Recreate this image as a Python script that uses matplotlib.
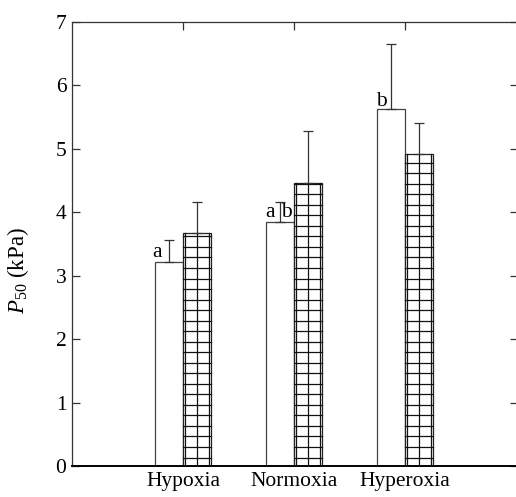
import matplotlib
matplotlib.use("Agg")
import matplotlib.pyplot as plt
import numpy as np

plt.rcParams['font.family'] = ['Liberation Serif', 'DejaVu Serif']
plt.rcParams['mathtext.fontset'] = 'custom'
plt.rcParams['mathtext.rm'] = 'Liberation Serif'
plt.rcParams['mathtext.it'] = 'Liberation Serif:italic'

categories = ['Hypoxia', 'Normoxia', 'Hyperoxia']
white_values = [3.22, 3.85, 5.63]
white_errors = [0.35, 0.31, 1.02]
hatched_values = [3.67, 4.46, 4.92]
hatched_errors = [0.49, 0.82, 0.48]
white_letters = ['a', 'a', 'b']
extra_letters = ['', 'b', '']
y_ticks = [0, 1, 2, 3, 4, 5, 6, 7]

W, H = 516, 497
fig = plt.figure(figsize=(W / 100, H / 100), dpi=100)
ax = fig.add_axes([72 / W, (H - 466) / H, (518 - 72) / W, (466 - 22) / H])

x = np.arange(1, len(categories) + 1)
bw = 0.25
edge = '#444444'

ax.bar(x - bw / 2, white_values, width=bw, color='white', edgecolor=edge, linewidth=0.9, zorder=2)
ax.bar(x + bw / 2, hatched_values, width=bw, color='white', edgecolor='#222222', linewidth=0.9, zorder=2)

# grid hatch for the second series
hstep = 0.166
hoff = 0.134
for xi, v in zip(x, hatched_values):
    left = xi
    for f in (0.08, 0.5, 0.92):
        ax.plot([left + f * bw] * 2, [0, v], color='#111111', lw=0.9, zorder=3)
    ys = np.arange(hoff, v, hstep)
    for yy in ys:
        ax.plot([left, left + bw], [yy, yy], color='#111111', lw=0.9, zorder=3)

ax.errorbar(x - bw / 2, white_values, yerr=[np.zeros(3), white_errors], fmt='none',
            ecolor='#333333', elinewidth=0.9, capsize=3.4, capthick=0.9, zorder=4)
ax.errorbar(x + bw / 2, hatched_values, yerr=[np.zeros(3), hatched_errors], fmt='none',
            ecolor='#333333', elinewidth=0.9, capsize=3.4, capthick=0.9, zorder=4)

fs = 15.5
ax.text(x[0] - bw + 0.02, white_values[0] + 0.08, white_letters[0], ha='center', va='baseline', fontsize=fs)
ax.text(x[1] - bw + 0.03, white_values[1] + 0.08, white_letters[1], ha='center', va='baseline', fontsize=fs)
ax.text(x[1] - 0.065, white_values[1] + 0.08, extra_letters[1], ha='center', va='baseline', fontsize=fs)
ax.text(x[2] - bw + 0.04, white_values[2] + 0.05, white_letters[2], ha='center', va='baseline', fontsize=fs)

ax.set_xlim(0, 4.018)
ax.set_ylim(0, 7)
ax.set_yticks(y_ticks)
ax.set_xticks(x)
ax.set_xticklabels(categories, fontsize=fs)
ax.tick_params(axis='y', labelsize=fs)
ax.tick_params(direction='in', length=6, width=0.9, color='#333333', pad=4,
               top=True, right=True, bottom=True, left=True)
ax.set_ylabel(r'$P_{\rm 50}$ (kPa)', fontsize=16.5)
ax.yaxis.set_label_coords(-0.092, 0.44)

for s in ax.spines.values():
    s.set_linewidth(0.9)
    s.set_color('#333333')
ax.spines['bottom'].set_linewidth(1.4)
ax.spines['bottom'].set_color('black')

fig.savefig('out.png', dpi=100)
